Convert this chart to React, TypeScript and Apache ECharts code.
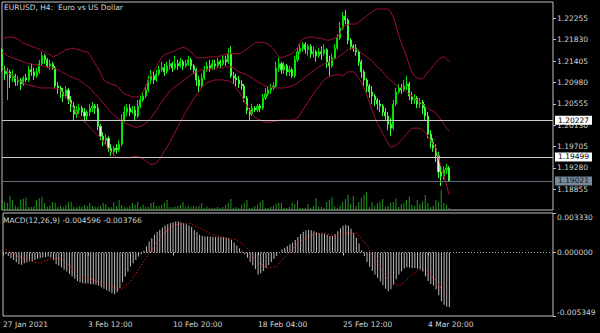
import React, { useEffect, useRef } from 'react';
import * as echarts from 'echarts';

const opens = [
  1.2163, 1.2123, 1.2115, 1.2119, 1.2107, 1.2111, 1.2099, 1.2103, 1.2095, 1.2107,
  1.2103, 1.2123, 1.2119, 1.2111, 1.2119, 1.2135, 1.2151, 1.2143, 1.2131, 1.2135,
  1.2127, 1.2091, 1.2087, 1.2079, 1.2071, 1.2083, 1.2063, 1.2051, 1.2035, 1.2043,
  1.2047, 1.2039, 1.2031, 1.2039, 1.2047, 1.2051, 1.2047, 1.2011, 1.1991, 1.1983,
  1.1987, 1.1967, 1.1960, 1.1967, 1.1964, 1.1975, 1.2023, 1.2039, 1.2047, 1.2039,
  1.2043, 1.2031, 1.2051, 1.2063, 1.2071, 1.2083, 1.2103, 1.2111, 1.2103, 1.2115,
  1.2123, 1.2127, 1.2119, 1.2131, 1.2135, 1.2127, 1.2135, 1.2131, 1.2139, 1.2131,
  1.2135, 1.2143, 1.2131, 1.2123, 1.2103, 1.2091, 1.2107, 1.2123, 1.2131, 1.2127,
  1.2135, 1.2131, 1.2139, 1.2135, 1.2143, 1.2139, 1.2155, 1.2111, 1.2107, 1.2103,
  1.2095, 1.2091, 1.2067, 1.2043, 1.2035, 1.2047, 1.2043, 1.2051, 1.2047, 1.2067,
  1.2075, 1.2083, 1.2087, 1.2091, 1.2127, 1.2135, 1.2123, 1.2131, 1.2119, 1.2123,
  1.2111, 1.2143, 1.2159, 1.2166, 1.2174, 1.2163, 1.2170, 1.2155, 1.2159, 1.2151,
  1.2159, 1.2155, 1.2163, 1.2139, 1.2131, 1.2147, 1.2166, 1.2186, 1.2206, 1.2230,
  1.2222, 1.2182, 1.2170, 1.2166, 1.2159, 1.2139, 1.2119, 1.2103, 1.2091, 1.2079,
  1.2071, 1.2063, 1.2055, 1.2051, 1.2039, 1.2031, 1.2015, 1.2007, 1.2055, 1.2079,
  1.2087, 1.2083, 1.2091, 1.2095, 1.2071, 1.2063, 1.2067, 1.2055, 1.2059, 1.2047,
  1.2031, 1.1995, 1.1979, 1.1967, 1.1952, 1.1920, 1.1912, 1.1924, 1.1928,
];

const closes = [
  1.2123, 1.2115, 1.2119, 1.2107, 1.2111, 1.2099, 1.2103, 1.2095, 1.2107, 1.2103,
  1.2123, 1.2119, 1.2111, 1.2119, 1.2135, 1.2151, 1.2143, 1.2131, 1.2135, 1.2127,
  1.2091, 1.2087, 1.2079, 1.2071, 1.2083, 1.2063, 1.2051, 1.2035, 1.2043, 1.2047,
  1.2039, 1.2031, 1.2039, 1.2047, 1.2051, 1.2047, 1.2011, 1.1991, 1.1983, 1.1987,
  1.1967, 1.1960, 1.1967, 1.1964, 1.1975, 1.2023, 1.2039, 1.2047, 1.2039, 1.2043,
  1.2031, 1.2051, 1.2063, 1.2071, 1.2083, 1.2103, 1.2111, 1.2103, 1.2115, 1.2123,
  1.2127, 1.2119, 1.2131, 1.2135, 1.2127, 1.2135, 1.2131, 1.2139, 1.2131, 1.2135,
  1.2143, 1.2131, 1.2123, 1.2103, 1.2091, 1.2107, 1.2123, 1.2131, 1.2127, 1.2135,
  1.2131, 1.2139, 1.2135, 1.2143, 1.2139, 1.2155, 1.2111, 1.2107, 1.2103, 1.2095,
  1.2091, 1.2067, 1.2043, 1.2035, 1.2047, 1.2043, 1.2051, 1.2047, 1.2067, 1.2075,
  1.2083, 1.2087, 1.2091, 1.2127, 1.2135, 1.2123, 1.2131, 1.2119, 1.2123, 1.2111,
  1.2143, 1.2159, 1.2166, 1.2174, 1.2163, 1.2170, 1.2155, 1.2159, 1.2151, 1.2159,
  1.2155, 1.2163, 1.2139, 1.2131, 1.2147, 1.2166, 1.2186, 1.2206, 1.2230, 1.2222,
  1.2182, 1.2170, 1.2166, 1.2159, 1.2139, 1.2119, 1.2103, 1.2091, 1.2079, 1.2071,
  1.2063, 1.2055, 1.2051, 1.2039, 1.2031, 1.2015, 1.2007, 1.2055, 1.2079, 1.2087,
  1.2083, 1.2091, 1.2095, 1.2071, 1.2063, 1.2067, 1.2055, 1.2059, 1.2047, 1.2031,
  1.1995, 1.1979, 1.1967, 1.1952, 1.1920, 1.1912, 1.1924, 1.1928, 1.19021,
];

const lows = [
  1.2119, 1.2103, 1.2063, 1.2087, 1.2099, 1.2091, 1.2091, 1.2083, 1.2091, 1.2099,
  1.2099, 1.2111, 1.2103, 1.2107, 1.2115, 1.2131, 1.2135, 1.2127, 1.2123, 1.2123,
  1.2087, 1.2075, 1.2067, 1.2059, 1.2067, 1.2055, 1.2039, 1.2023, 1.2027, 1.2035,
  1.2031, 1.2019, 1.2023, 1.2031, 1.2039, 1.2035, 1.2003, 1.1983, 1.1971, 1.1975,
  1.1960, 1.1952, 1.1952, 1.1956, 1.1960, 1.1971, 1.2019, 1.2031, 1.2031, 1.2035,
  1.2023, 1.2027, 1.2047, 1.2059, 1.2067, 1.2079, 1.2095, 1.2095, 1.2099, 1.2111,
  1.2119, 1.2111, 1.2115, 1.2123, 1.2119, 1.2123, 1.2123, 1.2127, 1.2123, 1.2127,
  1.2131, 1.2123, 1.2115, 1.2091, 1.2079, 1.2087, 1.2103, 1.2119, 1.2119, 1.2123,
  1.2123, 1.2127, 1.2127, 1.2131, 1.2131, 1.2135, 1.2107, 1.2095, 1.2091, 1.2087,
  1.2083, 1.2059, 1.2035, 1.2023, 1.2031, 1.2039, 1.2039, 1.2039, 1.2043, 1.2063,
  1.2071, 1.2075, 1.2083, 1.2087, 1.2119, 1.2115, 1.2115, 1.2111, 1.2111, 1.2107,
  1.2107, 1.2139, 1.2155, 1.2159, 1.2155, 1.2151, 1.2147, 1.2147, 1.2139, 1.2147,
  1.2143, 1.2151, 1.2127, 1.2111, 1.2127, 1.2143, 1.2163, 1.2182, 1.2202, 1.2214,
  1.2174, 1.2163, 1.2159, 1.2151, 1.2131, 1.2107, 1.2091, 1.2079, 1.2067, 1.2055,
  1.2051, 1.2043, 1.2039, 1.2031, 1.2023, 1.2003, 1.1991, 1.2003, 1.2051, 1.2075,
  1.2075, 1.2079, 1.2083, 1.2063, 1.2055, 1.2055, 1.2047, 1.2047, 1.2035, 1.2023,
  1.1987, 1.1967, 1.1960, 1.1940, 1.1908, 1.1892, 1.1904, 1.1916, 1.1900,
];

const highs = [
  1.2166, 1.2131, 1.2127, 1.2123, 1.2123, 1.2115, 1.2111, 1.2107, 1.2111, 1.2115,
  1.2131, 1.2135, 1.2127, 1.2127, 1.2143, 1.2159, 1.2155, 1.2147, 1.2143, 1.2139,
  1.2131, 1.2099, 1.2091, 1.2087, 1.2091, 1.2087, 1.2071, 1.2059, 1.2051, 1.2055,
  1.2051, 1.2047, 1.2043, 1.2055, 1.2059, 1.2055, 1.2055, 1.2015, 1.1999, 1.1995,
  1.1991, 1.1975, 1.1971, 1.1975, 1.1983, 1.2035, 1.2051, 1.2055, 1.2055, 1.2051,
  1.2051, 1.2063, 1.2071, 1.2079, 1.2091, 1.2111, 1.2123, 1.2119, 1.2123, 1.2131,
  1.2139, 1.2135, 1.2139, 1.2143, 1.2139, 1.2151, 1.2143, 1.2147, 1.2143, 1.2143,
  1.2151, 1.2147, 1.2135, 1.2127, 1.2111, 1.2115, 1.2131, 1.2139, 1.2143, 1.2143,
  1.2143, 1.2147, 1.2143, 1.2151, 1.2151, 1.2166, 1.2170, 1.2119, 1.2115, 1.2111,
  1.2103, 1.2095, 1.2071, 1.2047, 1.2055, 1.2051, 1.2055, 1.2055, 1.2075, 1.2087,
  1.2091, 1.2095, 1.2099, 1.2139, 1.2147, 1.2139, 1.2139, 1.2135, 1.2131, 1.2127,
  1.2151, 1.2166, 1.2174, 1.2178, 1.2178, 1.2174, 1.2174, 1.2170, 1.2163, 1.2166,
  1.2170, 1.2174, 1.2166, 1.2151, 1.2155, 1.2174, 1.2194, 1.2218, 1.2238, 1.2242,
  1.2226, 1.2186, 1.2174, 1.2174, 1.2163, 1.2143, 1.2123, 1.2107, 1.2095, 1.2091,
  1.2075, 1.2067, 1.2063, 1.2055, 1.2047, 1.2039, 1.2027, 1.2063, 1.2087, 1.2095,
  1.2095, 1.2103, 1.2111, 1.2099, 1.2079, 1.2075, 1.2071, 1.2067, 1.2063, 1.2055,
  1.2039, 1.2003, 1.1987, 1.1975, 1.1960, 1.1932, 1.1932, 1.1936, 1.1932,
];

const volumes = [
  6200, 8100, 7300, 14200, 10100, 4300, 3100, 10400, 11200, 12300,
  3200, 2900, 4100, 9800, 12100, 13200, 7100, 3300, 4200, 8100,
  7200, 3100, 4300, 2900, 5200, 8300, 7900, 3200, 2800, 4100,
  3300, 5100, 4200, 7100, 4100, 3200, 2900, 4300, 7200, 6100,
  3100, 2800, 7200, 4100, 10200, 5100, 3200, 2800, 4100, 7100,
  5200, 8100, 3100, 5200, 2900, 3200, 7100, 8200, 4100, 3900,
  5100, 7200, 10100, 3100, 2800, 3200, 4100, 5200, 8100, 3100,
  4200, 2900, 4100, 3200, 3900, 7100, 2100, 3200, 2200, 2100,
  2300, 3100, 2200, 2900, 5100, 7200, 11100, 2200, 3100, 2100,
  5200, 7100, 10200, 2100, 2300, 4100, 5200, 8100, 10100, 2200,
  2100, 3200, 4100, 6200, 7100, 7300, 2200, 2100, 3100, 7200,
  6100, 9200, 2200, 2100, 2300, 6100, 2200, 4100, 12100, 3200,
  2900, 2200, 8100, 10200, 13100, 4100, 2200, 4300, 8200, 11100,
  15200, 6100, 14100, 4200, 8100, 12200, 15100, 18200, 3100, 8100,
  4200, 7100, 8200, 11100, 3200, 4100, 7200, 8100, 11200, 3100,
  6100, 7200, 10100, 13200, 5100, 4100, 10200, 6100, 8200, 15100,
  7100, 3100, 4200, 10100, 8200, 20100, 7100, 5200, 2100,
];

const bbUpper = [
  1.2186, 1.2186, 1.2188, 1.2188, 1.2188, 1.2186, 1.2184, 1.2180, 1.2176, 1.2174,
  1.2172, 1.2170, 1.2168, 1.2166, 1.2164, 1.2161, 1.2159, 1.2155, 1.2153, 1.2149,
  1.2151, 1.2153, 1.2157, 1.2159, 1.2163, 1.2164, 1.2166, 1.2166, 1.2164, 1.2163,
  1.2161, 1.2159, 1.2159, 1.2153, 1.2143, 1.2135, 1.2127, 1.2117, 1.2105, 1.2099,
  1.2097, 1.2095, 1.2093, 1.2091, 1.2087, 1.2079, 1.2075, 1.2073, 1.2071, 1.2069,
  1.2069, 1.2069, 1.2073, 1.2079, 1.2091, 1.2103, 1.2113, 1.2121, 1.2129, 1.2139,
  1.2147, 1.2153, 1.2155, 1.2157, 1.2159, 1.2161, 1.2164, 1.2166, 1.2168, 1.2166,
  1.2163, 1.2159, 1.2153, 1.2147, 1.2147, 1.2147, 1.2147, 1.2147, 1.2149, 1.2149,
  1.2149, 1.2149, 1.2151, 1.2153, 1.2153, 1.2155, 1.2155, 1.2155, 1.2155, 1.2155,
  1.2157, 1.2161, 1.2164, 1.2168, 1.2172, 1.2176, 1.2178, 1.2178, 1.2178, 1.2176,
  1.2174, 1.2170, 1.2164, 1.2157, 1.2149, 1.2147, 1.2149, 1.2151, 1.2153, 1.2155,
  1.2161, 1.2168, 1.2178, 1.2184, 1.2186, 1.2188, 1.2188, 1.2188, 1.2186, 1.2186,
  1.2186, 1.2184, 1.2182, 1.2182, 1.2184, 1.2186, 1.2188, 1.2196, 1.2208, 1.2212,
  1.2212, 1.2214, 1.2214, 1.2214, 1.2218, 1.2222, 1.2226, 1.2230, 1.2234, 1.2238,
  1.2242, 1.2244, 1.2244, 1.2244, 1.2244, 1.2244, 1.2238, 1.2228, 1.2212, 1.2192,
  1.2176, 1.2163, 1.2149, 1.2133, 1.2119, 1.2111, 1.2107, 1.2105, 1.2105, 1.2111,
  1.2119, 1.2125, 1.2131, 1.2137, 1.2143, 1.2147, 1.2149, 1.2145, 1.2139,
];

const bbMiddle = [
  1.2157, 1.2155, 1.2151, 1.2149, 1.2147, 1.2145, 1.2143, 1.2141, 1.2139, 1.2137,
  1.2135, 1.2135, 1.2133, 1.2133, 1.2131, 1.2131, 1.2129, 1.2129, 1.2127, 1.2127,
  1.2125, 1.2123, 1.2121, 1.2117, 1.2115, 1.2111, 1.2109, 1.2107, 1.2105, 1.2103,
  1.2099, 1.2095, 1.2091, 1.2087, 1.2081, 1.2075, 1.2069, 1.2063, 1.2057, 1.2051,
  1.2045, 1.2039, 1.2033, 1.2029, 1.2025, 1.2021, 1.2017, 1.2015, 1.2013, 1.2011,
  1.2009, 1.2009, 1.2011, 1.2013, 1.2017, 1.2021, 1.2027, 1.2035, 1.2043, 1.2051,
  1.2059, 1.2067, 1.2073, 1.2081, 1.2085, 1.2089, 1.2093, 1.2097, 1.2101, 1.2105,
  1.2109, 1.2113, 1.2117, 1.2119, 1.2121, 1.2123, 1.2123, 1.2123, 1.2123, 1.2125,
  1.2125, 1.2127, 1.2127, 1.2127, 1.2129, 1.2129, 1.2129, 1.2127, 1.2123, 1.2119,
  1.2117, 1.2115, 1.2113, 1.2109, 1.2107, 1.2103, 1.2099, 1.2097, 1.2093, 1.2091,
  1.2089, 1.2089, 1.2087, 1.2087, 1.2087, 1.2087, 1.2087, 1.2089, 1.2089, 1.2091,
  1.2093, 1.2097, 1.2101, 1.2105, 1.2109, 1.2113, 1.2117, 1.2121, 1.2125, 1.2129,
  1.2131, 1.2135, 1.2137, 1.2139, 1.2143, 1.2145, 1.2147, 1.2151, 1.2155, 1.2159,
  1.2163, 1.2166, 1.2166, 1.2164, 1.2161, 1.2157, 1.2153, 1.2149, 1.2145, 1.2141,
  1.2135, 1.2129, 1.2125, 1.2119, 1.2113, 1.2107, 1.2103, 1.2097, 1.2093, 1.2091,
  1.2087, 1.2083, 1.2079, 1.2075, 1.2071, 1.2067, 1.2063, 1.2059, 1.2055, 1.2051,
  1.2047, 1.2043, 1.2041, 1.2037, 1.2031, 1.2023, 1.2015, 1.2007, 1.2001,
];

const bbLower = [
  1.2129, 1.2123, 1.2119, 1.2115, 1.2111, 1.2107, 1.2103, 1.2101, 1.2097, 1.2095,
  1.2093, 1.2091, 1.2091, 1.2089, 1.2087, 1.2087, 1.2087, 1.2087, 1.2087, 1.2087,
  1.2085, 1.2085, 1.2083, 1.2075, 1.2069, 1.2063, 1.2055, 1.2045, 1.2037, 1.2029,
  1.2025, 1.2021, 1.2015, 1.2009, 1.2003, 1.1997, 1.1993, 1.1989, 1.1981, 1.1973,
  1.1967, 1.1960, 1.1954, 1.1950, 1.1948, 1.1948, 1.1948, 1.1948, 1.1948, 1.1950,
  1.1950, 1.1950, 1.1948, 1.1946, 1.1942, 1.1938, 1.1934, 1.1936, 1.1938, 1.1944,
  1.1952, 1.1962, 1.1969, 1.1979, 1.1989, 1.1999, 1.2009, 1.2019, 1.2029, 1.2039,
  1.2047, 1.2057, 1.2065, 1.2073, 1.2079, 1.2087, 1.2093, 1.2097, 1.2099, 1.2101,
  1.2103, 1.2103, 1.2103, 1.2103, 1.2101, 1.2101, 1.2099, 1.2095, 1.2087, 1.2079,
  1.2071, 1.2061, 1.2051, 1.2043, 1.2035, 1.2029, 1.2025, 1.2023, 1.2021, 1.2019,
  1.2019, 1.2019, 1.2021, 1.2021, 1.2023, 1.2023, 1.2023, 1.2023, 1.2023, 1.2023,
  1.2025, 1.2027, 1.2035, 1.2043, 1.2051, 1.2059, 1.2067, 1.2075, 1.2083, 1.2089,
  1.2097, 1.2103, 1.2107, 1.2109, 1.2111, 1.2113, 1.2113, 1.2113, 1.2111, 1.2115,
  1.2119, 1.2119, 1.2119, 1.2115, 1.2107, 1.2099, 1.2087, 1.2073, 1.2059, 1.2043,
  1.2029, 1.2017, 1.2007, 1.1997, 1.1987, 1.1977, 1.1969, 1.1971, 1.1973, 1.1977,
  1.1983, 1.1989, 1.1995, 1.2001, 1.2007, 1.2007, 1.2007, 1.2007, 1.2003, 1.1999,
  1.1991, 1.1983, 1.1975, 1.1967, 1.1948, 1.1930, 1.1912, 1.1894, 1.1874,
];

const macdMain = [
  -0.5e-4, -1.5e-4, -3.0e-4, -4.8e-4, -6.2e-4, -8.1e-4, -9.8e-4, -10.4e-4, -9.0e-4, -8.1e-4,
  -7.6e-4, -7.6e-4, -6.2e-4, -5.3e-4, -4.8e-4, -4.2e-4, -3.7e-4, -3.4e-4, -4.2e-4, -6.2e-4,
  -9.8e-4, -11.0e-4, -12.6e-4, -14.6e-4, -16.0e-4, -18.2e-4, -20.2e-4, -22.2e-4, -23.9e-4, -25.0e-4,
  -25.8e-4, -26.1e-4, -26.1e-4, -26.7e-4, -26.7e-4, -27.2e-4, -28.0e-4, -29.5e-4, -30.6e-4, -31.7e-4,
  -32.9e-4, -34.3e-4, -35.1e-4, -33.4e-4, -30.0e-4, -25.0e-4, -20.2e-4, -16.0e-4, -11.8e-4, -9.0e-4,
  -6.2e-4, -3.4e-4, -1.4e-4, 1.4e-4, 5.1e-4, 9.3e-4, 12.1e-4, 14.9e-4, 17.2e-4, 19.1e-4,
  21.1e-4, 22.8e-4, 23.9e-4, 24.8e-4, 25.6e-4, 26.1e-4, 26.1e-4, 25.6e-4, 24.8e-4, 23.9e-4,
  22.8e-4, 21.6e-4, 19.0e-4, 17.0e-4, 15.0e-4, 14.0e-4, 13.5e-4, 13.5e-4, 13.2e-4, 13.2e-4,
  13.0e-4, 13.0e-4, 12.8e-4, 12.8e-4, 12.5e-4, 12.0e-4, 10.5e-4, 8.5e-4, 6.0e-4, 3.5e-4,
  1.0e-4, -1.5e-4, -4.5e-4, -8.0e-4, -11.0e-4, -14.0e-4, -18.5e-4, -17.5e-4, -15.5e-4, -13.0e-4,
  -10.5e-4, -8.0e-4, -5.5e-4, -3.0e-4, -0.5e-4, 2.5e-4, 4.0e-4, 5.5e-4, 7.0e-4, 8.5e-4,
  10.5e-4, 13.0e-4, 15.5e-4, 17.5e-4, 18.5e-4, 19.0e-4, 18.7e-4, 18.0e-4, 17.0e-4, 16.5e-4,
  16.0e-4, 15.5e-4, 15.0e-4, 14.0e-4, 14.0e-4, 15.5e-4, 18.0e-4, 20.5e-4, 22.5e-4, 23.5e-4,
  22.5e-4, 20.0e-4, 16.5e-4, 12.5e-4, 7.5e-4, 2.0e-4, -3.0e-4, -8.0e-4, -12.0e-4, -15.5e-4,
  -18.5e-4, -21.5e-4, -24.5e-4, -27.5e-4, -30.5e-4, -32.5e-4, -31.0e-4, -27.0e-4, -22.5e-4, -18.5e-4,
  -16.0e-4, -13.5e-4, -12.5e-4, -12.5e-4, -13.0e-4, -13.0e-4, -13.5e-4, -14.0e-4, -16.0e-4, -20.0e-4,
  -24.0e-4, -26.5e-4, -28.0e-4, -31.0e-4, -36.0e-4, -41.0e-4, -44.0e-4, -45.5e-4, -45.96e-4,
];

const macdSignal = [
  3.7e-4, 3.0e-4, 1.8e-4, 0.5e-4, -1.0e-4, -2.7e-4, -3.4e-4, -4.1e-4, -5.0e-4, -5.8e-4,
  -6.5e-4, -7.2e-4, -8.0e-4, -8.8e-4, -8.5e-4, -7.6e-4, -6.8e-4, -6.1e-4, -5.6e-4, -5.1e-4,
  -4.8e-4, -4.9e-4, -5.9e-4, -7.3e-4, -8.6e-4, -10.5e-4, -12.9e-4, -15.3e-4, -17.7e-4, -19.8e-4,
  -20.7e-4, -21.3e-4, -21.9e-4, -22.4e-4, -23.0e-4, -23.9e-4, -24.7e-4, -25.5e-4, -26.2e-4, -27.0e-4,
  -27.7e-4, -28.5e-4, -29.4e-4, -30.4e-4, -31.2e-4, -30.3e-4, -28.4e-4, -26.5e-4, -24.4e-4, -21.0e-4,
  -17.6e-4, -14.3e-4, -10.8e-4, -7.5e-4, -4.2e-4, -0.9e-4, 2.5e-4, 5.9e-4, 9.2e-4, 12.6e-4,
  15.1e-4, 17.1e-4, 19.0e-4, 21.0e-4, 22.8e-4, 23.5e-4, 23.8e-4, 24.1e-4, 24.4e-4, 24.7e-4,
  24.6e-4, 23.8e-4, 22.6e-4, 21.5e-4, 20.6e-4, 19.5e-4, 18.4e-4, 17.2e-4, 16.1e-4, 15.0e-4,
  14.4e-4, 13.9e-4, 13.3e-4, 12.8e-4, 12.2e-4, 11.8e-4, 11.4e-4, 11.1e-4, 10.7e-4, 9.1e-4,
  7.3e-4, 5.4e-4, 3.4e-4, 0.3e-4, -2.8e-4, -5.9e-4, -8.2e-4, -9.6e-4, -11.1e-4, -12.6e-4,
  -13.1e-4, -12.8e-4, -12.2e-4, -11.9e-4, -9.1e-4, -6.4e-4, -3.7e-4, -1.7e-4, 0.7e-4, 3.1e-4,
  5.4e-4, 7.8e-4, 9.6e-4, 10.9e-4, 12.1e-4, 13.3e-4, 14.5e-4, 15.1e-4, 15.5e-4, 15.9e-4,
  16.3e-4, 16.2e-4, 15.5e-4, 14.9e-4, 14.2e-4, 13.7e-4, 13.8e-4, 14.6e-4, 15.4e-4, 16.2e-4,
  16.4e-4, 16.4e-4, 16.4e-4, 16.4e-4, 14.0e-4, 11.4e-4, 8.8e-4, 6.0e-4, 1.9e-4, -2.3e-4,
  -6.2e-4, -9.2e-4, -12.6e-4, -16.1e-4, -19.5e-4, -23.0e-4, -24.8e-4, -25.9e-4, -26.9e-4, -27.9e-4,
  -26.9e-4, -24.9e-4, -22.7e-4, -20.8e-4, -18.5e-4, -16.8e-4, -15.3e-4, -14.5e-4, -14.2e-4, -14.3e-4,
  -16.5e-4, -18.9e-4, -22.0e-4, -24.1e-4, -27.2e-4, -30.5e-4, -33.0e-4, -35.2e-4, -37.66e-4,
];

const priceTicks = [1.22255, 1.2183, 1.21405, 1.2098, 1.20555, 1.2013, 1.19705, 1.1928, 1.18855];
const macdTicks = [0.00333, 0, -0.005349];
const dateLabels = ['27 Jan 2021', '3 Feb 12:00', '10 Feb 20:00', '18 Feb 04:00', '25 Feb 12:00', '4 Mar 20:00'];
const dateLabelBars = [0, 32, 64, 96, 128, 160];
const priceLevels = [1.20227, 1.19499];
const bidPrice = 1.19021;
const macdLast = '-0.004596';
const signalLast = '-0.003766';

const SLOTS = 208;
const PRICE_MIN = 1.18443;
const PRICE_MAX = 1.22579;
const MACD_MIN = -0.005349;
const MACD_MAX = 0.00333;

export default function App() {
  const ref = useRef<HTMLDivElement>(null);
  useEffect(() => {
    if (!ref.current) return;
    const chart = echarts.init(ref.current, null, { renderer: 'svg' });
    const cats = Array.from({ length: SLOTS }, (_, i) => String(i));
    const candles = opens.map((o, i) => [o, closes[i], lows[i], highs[i]]);
    const font = 'DejaVu Sans';
    const txt = '#d4d4d4';
    const border = '#c0c0c0';
    const bandStyle = { color: '#a0102e', width: 1 };
    const isLabelBar = (i: number) => dateLabelBars.includes(i);

    const levelLabel = (p: number, bg: string, fg: string) => ({
      show: true, position: 'end', distance: 2, formatter: () => p.toFixed(5),
      backgroundColor: bg, color: fg, padding: [1, 3, 0, 3], fontSize: 7.5, fontFamily: font,
    });

    const option: any = {
      animation: false,
      backgroundColor: '#000000',
      grid: [
        { left: 2, right: 47, top: 2, height: 208, show: true, borderColor: border, borderWidth: 1, backgroundColor: 'transparent' },
        { left: 2, right: 47, top: 150, height: 60, show: false },
        { left: 2, right: 47, top: 213, height: 103, show: true, borderColor: border, borderWidth: 1, backgroundColor: 'transparent' },
      ],
      xAxis: [
        { type: 'category', gridIndex: 0, data: cats, boundaryGap: false, show: false },
        { type: 'category', gridIndex: 1, data: cats, boundaryGap: false, show: false },
        {
          type: 'category', gridIndex: 2, data: cats, boundaryGap: false,
          axisLine: { show: false },
          axisTick: { show: true, interval: (i: number) => isLabelBar(i), length: 3, lineStyle: { color: border } },
          axisLabel: {
            interval: (i: number) => isLabelBar(i),
            formatter: (v: string) => {
              const k = dateLabelBars.indexOf(Number(v));
              return k >= 0 ? dateLabels[k] : '';
            },
            color: txt, fontSize: 7.5, fontFamily: font, align: 'left', margin: 4,
          },
          splitLine: { show: false },
        },
      ],
      yAxis: [
        {
          type: 'value', gridIndex: 0, position: 'right', min: PRICE_MIN, max: PRICE_MAX,
          axisLine: { show: false }, splitLine: { show: false },
          axisTick: { show: true, customValues: priceTicks, length: 3, lineStyle: { color: border } },
          axisLabel: { customValues: priceTicks, formatter: (v: number) => v.toFixed(5), color: txt, fontSize: 7.5, fontFamily: font, margin: 4 },
        },
        { type: 'value', gridIndex: 1, min: 0, max: 60000, show: false },
        {
          type: 'value', gridIndex: 2, position: 'right', min: MACD_MIN, max: MACD_MAX,
          axisLine: { show: false }, splitLine: { show: false },
          axisTick: { show: true, customValues: macdTicks, length: 3, lineStyle: { color: border } },
          axisLabel: {
            customValues: macdTicks, formatter: (v: number) => v.toFixed(6), color: txt, fontSize: 7.5, fontFamily: font, margin: 4,
            verticalAlignMaxLabel: 'bottom', verticalAlignMinLabel: 'top',
          },
        },
      ],
      graphic: [
        { type: 'text', left: 4, top: 3, z: 10, style: { text: 'EURUSD, H4:  Euro vs US Dollar', fill: txt, fontSize: 7.5, fontFamily: font } },
        { type: 'text', left: 3, top: 216, z: 10, style: { text: `MACD(12,26,9) ${macdLast} ${signalLast}`, fill: txt, fontSize: 7.5, fontFamily: font } },
      ],
      series: [
        {
          name: 'Volume', type: 'bar', xAxisIndex: 1, yAxisIndex: 1, data: volumes, barWidth: 1, z: 1,
          itemStyle: { color: '#1f9a1f' },
        },
        {
          name: 'EURUSD', type: 'candlestick', xAxisIndex: 0, yAxisIndex: 0, data: candles, barWidth: 1.6, z: 2,
          itemStyle: { color: '#007800', color0: '#e4ffe4', borderColor: '#00e600', borderColor0: '#3cff3c', borderWidth: 1 },
        },
        { name: 'BB Upper', type: 'line', xAxisIndex: 0, yAxisIndex: 0, data: bbUpper, showSymbol: false, lineStyle: bandStyle, z: 3 },
        {
          name: 'BB Middle', type: 'line', xAxisIndex: 0, yAxisIndex: 0, data: bbMiddle, showSymbol: false, lineStyle: bandStyle, z: 3,
          markLine: {
            silent: true, symbol: 'none', animation: false, precision: 5,
            data: [
              { yAxis: priceLevels[0], lineStyle: { color: '#c8c8c8', width: 1, type: 'solid' }, label: levelLabel(priceLevels[0], '#ffffff', '#000000') },
              { yAxis: priceLevels[1], lineStyle: { color: '#c8c8c8', width: 1, type: 'solid' }, label: levelLabel(priceLevels[1], '#ffffff', '#000000') },
              { yAxis: bidPrice, lineStyle: { color: '#5d6c7c', width: 1, type: 'solid' }, label: levelLabel(bidPrice, '#778899', '#101820') },
            ],
          },
        },
        { name: 'BB Lower', type: 'line', xAxisIndex: 0, yAxisIndex: 0, data: bbLower, showSymbol: false, lineStyle: bandStyle, z: 3 },
        {
          name: 'MACD', type: 'bar', xAxisIndex: 2, yAxisIndex: 2, data: macdMain, barWidth: 1, z: 2,
          itemStyle: { color: '#bcbcbc' },
          markLine: {
            silent: true, symbol: 'none', animation: false, precision: 6, label: { show: false },
            data: [{ yAxis: 0 }],
            lineStyle: { color: '#a8a8a8', width: 1, type: [1, 2] },
          },
        },
        {
          name: 'Signal', type: 'line', xAxisIndex: 2, yAxisIndex: 2, data: macdSignal, showSymbol: false, z: 3,
          lineStyle: { color: '#ff1a1a', width: 1, type: [1.2, 2] },
        },
      ],
    };
    chart.setOption(option);
    return () => chart.dispose();
  }, []);

  return <div ref={ref} style={{ position: 'fixed', left: 0, top: 0, width: 600, height: 333 }} />;
}
